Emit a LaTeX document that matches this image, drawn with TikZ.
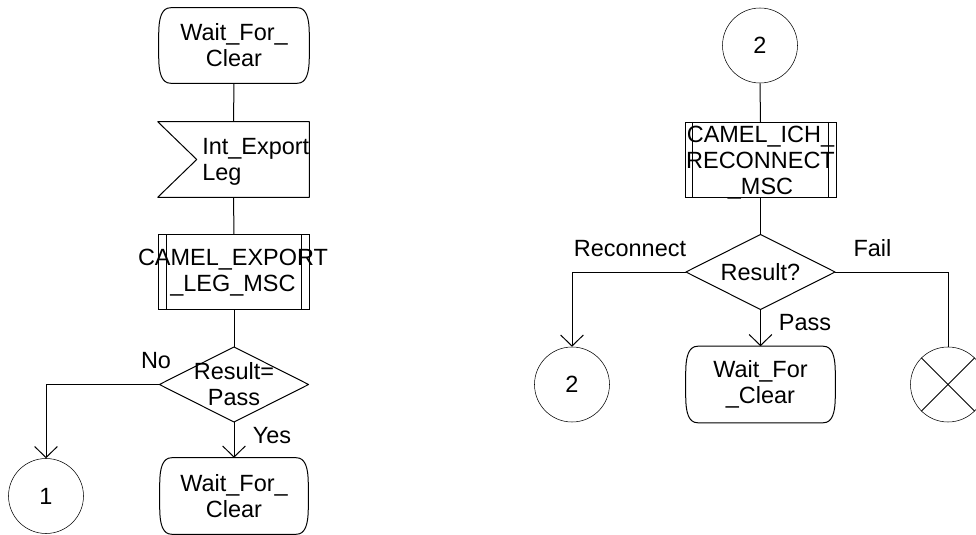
\documentclass[tikz,border=0pt]{standalone}
\usepackage{fontspec}
\setmainfont{Liberation Sans}
\usetikzlibrary{arrows.meta,calc}
\tikzset{
  txt/.style={inner sep=0pt, align=center, font=\fontsize{17.6pt}{19.4pt}\selectfont},
  shapebox/.style={inner sep=0pt, draw=none},
  statebox/.style={shapebox, minimum width=112.5pt, minimum height=56.25pt, txt},
  procbox/.style={shapebox, draw, minimum width=113pt, minimum height=56pt},
  inbox/.style={shapebox, minimum width=113.25pt, minimum height=56.25pt},
  decbox/.style={shapebox, minimum width=111.5pt, minimum height=55.9pt, txt},
  conbox/.style={circle, draw, inner sep=0pt, minimum size=56.25pt, txt},
  conn/.style={draw, line width=0.75pt},
  arr/.style={conn, -{Straight Barb[length=8.25pt,width=17pt,line width=0.75pt]}},
  outline/.style={draw, line width=0.75pt, line join=round}
}
\newcommand{\stateoutline}[1]{%
  \draw[outline] ($(#1.north west)+(12,0)$) -- ($(#1.north east)+(-12,0)$)
    .. controls ($(#1.north east)+(-3,0)$) and ($(#1.north east)+(0,10)$) .. ($(#1.north east)+(0,26)$)
    -- ($(#1.south east)+(0,-26)$)
    .. controls ($(#1.south east)+(0,-10)$) and ($(#1.south east)+(-3,0)$) .. ($(#1.south east)+(-12,0)$)
    -- ($(#1.south west)+(12,0)$)
    .. controls ($(#1.south west)+(3,0)$) and ($(#1.south west)+(0,-10)$) .. ($(#1.south west)+(0,-26)$)
    -- ($(#1.north west)+(0,26)$)
    .. controls ($(#1.north west)+(0,10)$) and ($(#1.north west)+(3,0)$) .. ($(#1.north west)+(12,0)$) -- cycle;}
\newcommand{\procoutline}[1]{%
  \draw[outline] ($(#1.north west)+(8,0)$) -- ($(#1.south west)+(8,0)$);
  \draw[outline] ($(#1.north east)+(-8,0)$) -- ($(#1.south east)+(-8,0)$);}
\newcommand{\decoutline}[1]{%
  \draw[outline] (#1.north) -- (#1.east) -- (#1.south) -- (#1.west) -- cycle;}
\begin{document}
\begin{tikzpicture}[x=0.75pt,y=-0.75pt]
\clip (0,0) rectangle (976,535);
\useasboundingbox (0,0) rectangle (976,535);

% ---------- left column ----------
\node[statebox] (s1) at (234,45.5) {Wait\_For\_\\Clear};
\stateoutline{s1}

\node[inbox] (in1) at (233.5,159.5) {};
\draw[outline] (in1.north west) -- (in1.north east) -- (in1.south east) -- (in1.south west)
  -- ($(in1.west)+(39,0)$) -- cycle;
\node[txt, align=left, anchor=west] (in1t) at (202,162) {Int\_Export\\Leg};

\node[procbox] (p1) at (234,272) {};
\procoutline{p1}
\node[txt] (p1t) at (233,273) {CAMEL\_EXPORT\\\_LEG\_MSC};

\node[decbox] (d1) at (234,384.5) {Result=\\Pass};
\decoutline{d1}

\node[conbox] (c1) at (46,496) {1};
\node[statebox, minimum width=111pt, minimum height=57pt] (s2) at (234,496) {Wait\_For\_\\Clear};
\stateoutline{s2}

\draw[conn] (s1.south) -- (in1.north);
\draw[conn] (in1.south) -- (p1.north);
\draw[conn] (p1.south) -- (d1.north);
\draw[arr] (d1.west) -| (c1.north);
\draw[arr] (d1.south) -- (s2.north);
\node[txt] (no) at (156,360.5) {No};
\node[txt] (yes) at (272,435.5) {Yes};

% ---------- right column ----------
\node[conbox] (c2) at (760,45.5) {2};

\node[procbox] (p2) at (760.5,159.5) {};
\procoutline{p2}
\node[txt] (p2t) at (760.5,163) {CAMEL\_ICH\_\\RECONNECT\\\_MSC};

\node[decbox] (d2) at (760.5,272) {Result?};
\decoutline{d2}

\node[conbox] (c3) at (572,384.5) {2};
\node[statebox, minimum width=111.75pt, minimum height=57pt] (s3) at (760.5,384.5) {Wait\_For\\\_Clear};
\stateoutline{s3}
\node[conbox] (x1) at (948,384.5) {};
\draw[outline] (x1.north west) -- (x1.south east);
\draw[outline] (x1.north east) -- (x1.south west);

\draw[conn] (c2.south) -- (p2.north);
\draw[conn] (p2.south) -- (d2.north);
\draw[arr] (d2.west) -| (c3.north);
\draw[arr] (d2.south) -- (s3.north);
\draw[conn] (d2.east) -| (x1.north);
\node[txt] (rec) at (630,248.5) {Reconnect};
\node[txt] (fail) at (872.5,248.5) {Fail};
\node[txt] (pass) at (805,323) {Pass};
\end{tikzpicture}
\end{document}
